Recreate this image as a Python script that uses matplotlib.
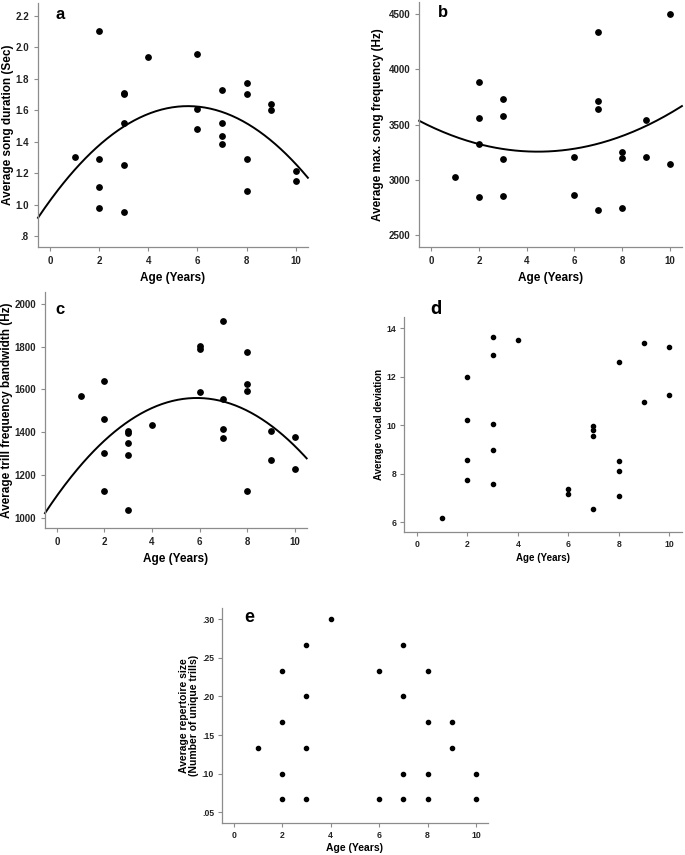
import numpy as np
import matplotlib
matplotlib.use("Agg")
import matplotlib.pyplot as plt

plt.rcParams["font.family"] = ["Liberation Sans", "DejaVu Sans"]

# ----- data -----
age_a = [1, 2, 2, 2, 2, 3, 3, 3, 3, 3, 4, 6, 6, 6, 7, 7, 7, 7, 8, 8, 8, 8, 9, 9, 10, 10]
song_dur = [1.30, 2.10, 1.29, 1.11, 0.98, 1.71, 1.70, 1.52, 1.25, 0.955, 1.935,
            1.955, 1.605, 1.48, 1.73, 1.52, 1.435, 1.385, 1.77, 1.70, 1.29, 1.085,
            1.64, 1.60, 1.215, 1.15]

age_b = [1, 2, 2, 2, 2, 3, 3, 3, 3, 6, 6, 7, 7, 7, 7, 8, 8, 8, 9, 9, 10, 10]
max_freq = [3028, 3882, 3562, 3326, 2841, 3734, 3574, 3191, 2850, 3209, 2859,
            4340, 3716, 3637, 2729, 3248, 3200, 2741, 3538, 3206, 4497, 3139]

age_c = [1, 2, 2, 2, 2, 3, 3, 3, 3, 3, 4, 6, 6, 6, 7, 7, 7, 7, 8, 8, 8, 8, 9, 9, 10, 10]
trill_bw = [1571, 1638, 1464, 1303, 1124, 1407, 1396, 1351, 1292, 1036, 1433,
            1804, 1787, 1587, 1918, 1553, 1415, 1374, 1773, 1623, 1592, 1124,
            1405, 1273, 1379, 1227]

age_d = [1, 2, 2, 2, 2, 3, 3, 3, 3, 3, 4, 6, 6, 7, 7, 7, 7, 8, 8, 8, 8, 9, 9, 10, 10]
vocal_dev = [6.19, 12.01, 10.22, 8.57, 7.73, 13.62, 12.90, 10.04, 8.98, 7.58, 13.51,
             7.37, 7.18, 9.97, 9.81, 9.55, 6.54, 12.60, 8.54, 8.13, 7.07,
             13.38, 10.98, 13.22, 11.25]

age_e = [1, 2, 2, 2, 2, 3, 3, 3, 3, 4, 6, 6, 7, 7, 7, 7, 8, 8, 8, 8, 9, 9, 10, 10]
repertoire = [0.133, 0.233, 0.167, 0.100, 0.067, 0.267, 0.200, 0.133, 0.067, 0.300,
              0.233, 0.067, 0.267, 0.200, 0.100, 0.067, 0.233, 0.167, 0.100, 0.067,
              0.167, 0.133, 0.100, 0.067]

x_ticks = [0, 2, 4, 6, 8, 10]
yt_a = [0.8, 1.0, 1.2, 1.4, 1.6, 1.8, 2.0, 2.2]
yl_a = [".8", "1.0", "1.2", "1.4", "1.6", "1.8", "2.0", "2.2"]
yt_b = [2500, 3000, 3500, 4000, 4500]
yt_c = [1000, 1200, 1400, 1600, 1800, 2000]
yt_d = [6, 8, 10, 12, 14]
yt_e = [0.05, 0.10, 0.15, 0.20, 0.25, 0.30]
yl_e = [".05", ".10", ".15", ".20", ".25", ".30"]

GREY = "#8c8c8c"


def style_ax(ax, small=False):
    for s in ["top", "right"]:
        ax.spines[s].set_visible(False)
    for s in ["left", "bottom"]:
        ax.spines[s].set_color(GREY)
        ax.spines[s].set_linewidth(0.9)
    fs = 6.2 if small else 7
    ax.tick_params(colors=GREY, length=3, width=0.8, labelsize=fs, labelcolor="#222222",
                   pad=2.5 if small else 3.5)
    for lab in ax.get_xticklabels() + ax.get_yticklabels():
        lab.set_fontweight("bold")
    ax.set_xlim(-0.5, 10.5)
    ax.set_xticks(x_ticks)


def add_fit(ax, x, y):
    # quadratic regression line, as in the original
    coef = np.polyfit(x, y, 2)
    xs = np.linspace(-0.5, 10.5, 200)
    ax.plot(xs, np.polyval(coef, xs), color="black", lw=1.4, clip_on=False)


fig = plt.figure(figsize=(6.85, 8.55), dpi=100)

# a
ax = fig.add_axes([0.0555, 0.711, 0.394, 0.2854])
ax.scatter(age_a, song_dur, s=15, color="black", zorder=3)
add_fit(ax, age_a, song_dur)
ax.set_ylim(0.73, 2.28)
ax.set_yticks(yt_a)
ax.set_yticklabels(yl_a)
style_ax(ax)
ax.set_xlabel("Age (Years)", fontsize=8.5, fontweight="bold")
ax.set_ylabel("Average song duration (Sec)", fontsize=8.5, fontweight="bold", labelpad=1)
ax.text(0.065, 0.955, "a", transform=ax.transAxes, fontsize=12, fontweight="bold", va="center")

# b
ax = fig.add_axes([0.612, 0.7108, 0.3835, 0.287])
ax.scatter(age_b, max_freq, s=15, color="black", zorder=3)
add_fit(ax, age_b, max_freq)
ax.set_ylim(2390, 4610)
ax.set_yticks(yt_b)
style_ax(ax)
ax.set_xlabel("Age (Years)", fontsize=8.5, fontweight="bold")
ax.set_ylabel("Average max. song frequency (Hz)", fontsize=8.5, fontweight="bold", labelpad=3)
ax.text(0.07, 0.955, "b", transform=ax.transAxes, fontsize=12, fontweight="bold", va="center")

# c
ax = fig.add_axes([0.0657, 0.382, 0.382, 0.2767])
ax.scatter(age_c, trill_bw, s=15, color="black", zorder=3)
add_fit(ax, age_c, trill_bw)
ax.set_ylim(952, 2055)
ax.set_yticks(yt_c)
style_ax(ax)
ax.set_xlabel("Age (Years)", fontsize=8.5, fontweight="bold")
ax.set_ylabel("Average trill frequency bandwidth (Hz)", fontsize=8.5, fontweight="bold", labelpad=1)
ax.text(0.04, 0.925, "c", transform=ax.transAxes, fontsize=12, fontweight="bold", va="center")

# d
ax = fig.add_axes([0.590, 0.3774, 0.4054, 0.2515])
ax.scatter(age_d, vocal_dev, s=9, color="black", zorder=3)
ax.set_ylim(5.59, 14.45)
ax.set_yticks(yt_d)
style_ax(ax, small=True)
ax.set_xlabel("Age (Years)", fontsize=7, fontweight="bold", labelpad=3)
ax.set_ylabel("Average vocal deviation", fontsize=7, fontweight="bold", labelpad=2)
ax.text(0.095, 1.04, "d", transform=ax.transAxes, fontsize=13, fontweight="bold",
        va="center", family=["Open Sans", "DejaVu Sans"])

# e
ax = fig.add_axes([0.3236, 0.0371, 0.389, 0.2515])
ax.scatter(age_e, repertoire, s=9, color="black", zorder=3)
ax.set_ylim(0.036, 0.314)
ax.set_yticks(yt_e)
ax.set_yticklabels(yl_e)
style_ax(ax, small=True)
ax.set_xlabel("Age (Years)", fontsize=7.5, fontweight="bold", labelpad=2)
ax.set_ylabel("Average repertoire size\n(Number of unique trills)", fontsize=7.5,
              fontweight="bold", labelpad=2, linespacing=0.95)
ax.text(0.085, 0.955, "e", transform=ax.transAxes, fontsize=13, fontweight="bold", va="center")

fig.savefig("out.png", dpi=100)
